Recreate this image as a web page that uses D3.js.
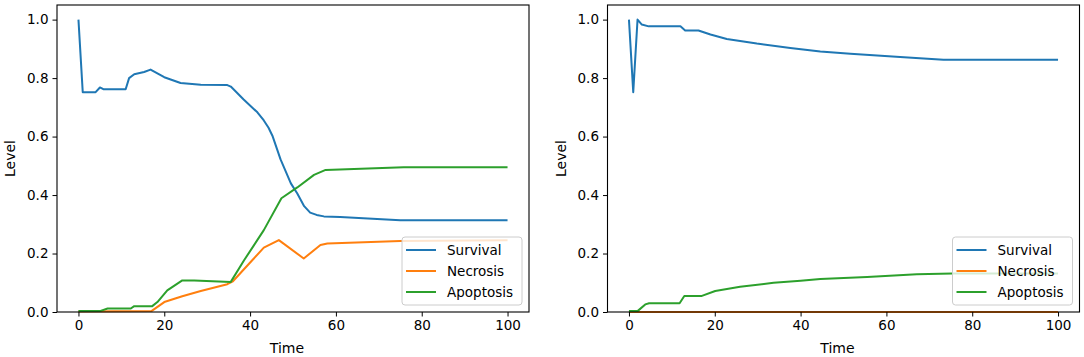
<!DOCTYPE html>
<html>
<head>
<meta charset="utf-8">
<script src="https://cdn.jsdelivr.net/npm/d3@7"></script>
<style>
  body { margin: 0; background: #fff; }
  text { font-family: "DejaVu Sans", sans-serif; }
</style>
</head>
<body>
<svg id="chart" width="1084" height="357"></svg>
<script>
// series, as [time, level] pairs
const seriesNames = ["Survival", "Necrosis", "Apoptosis"];
const colors = ["#1f77b4", "#ff7f0e", "#2ca02c"];
const xTicks = [0, 20, 40, 60, 80, 100];
const yTicks = [0.0, 0.2, 0.4, 0.6, 0.8, 1.0];

const leftSurvival = [[0,1.0],[1,0.752],[4,0.752],[5,0.768],[5.8,0.762],[11,0.762],[11.8,0.80],[13,0.813],[15.3,0.821],[16.8,0.829],[20,0.803],[23.8,0.783],[28.5,0.777],[34.7,0.776],[35.5,0.771],[38.5,0.727],[41.7,0.683],[43.2,0.655],[44.3,0.63],[45.2,0.603],[47.1,0.522],[49.5,0.44],[51,0.405],[52.6,0.362],[54,0.34],[55.5,0.332],[57.2,0.327],[61,0.325],[75,0.314],[100,0.314]];
const leftNecrosis = [[0,0.002],[17,0.003],[20,0.034],[24.2,0.054],[28.5,0.072],[34.7,0.095],[36,0.105],[40.5,0.177],[43.2,0.22],[46.7,0.246],[52.5,0.183],[56.4,0.229],[58,0.234],[75,0.243],[100,0.245]];
const leftApoptosis = [[0,0.003],[5,0.003],[6.8,0.012],[12.2,0.012],[13,0.02],[17.2,0.02],[18.4,0.034],[20.7,0.074],[24.2,0.108],[27,0.108],[35.5,0.103],[38.6,0.177],[43.2,0.28],[47.3,0.389],[51,0.426],[54.9,0.469],[57.6,0.486],[75.8,0.495],[100,0.495]];

const rightSurvival = [[0,1.0],[1,0.752],[2,1.0],[3,0.983],[4.6,0.977],[12,0.977],[13.1,0.963],[16.2,0.963],[19,0.949],[22.8,0.934],[29.8,0.918],[37.6,0.903],[44.6,0.891],[51.6,0.883],[63.2,0.872],[73.3,0.863],[100,0.863]];
const rightNecrosis = [[0,0],[100,0]];
const rightApoptosis = [[0,0.003],[2,0.003],[3.8,0.026],[4.7,0.03],[11.8,0.03],[12.9,0.055],[17,0.055],[20.1,0.072],[25.9,0.086],[33.7,0.1],[40,0.107],[44.6,0.113],[55.5,0.12],[67.1,0.129],[75.4,0.132],[100,0.132]];

const svg = d3.select("#chart");
const fontSize = 13.5;

function drawPanel(left, series) {
  const top = 5, width = 472, height = 307;
  const g = svg.append("g").attr("transform", "translate(" + left + "," + top + ")");

  const x = d3.scaleLinear().domain([-5, 105]).range([0, width]);
  const y = d3.scaleLinear().domain([0, 1.05]).range([height, 0]);

  const line = d3.line()
    .x(d => x(d[0]))
    .y(d => y(d[1]));

  // lines
  series.forEach((s, i) => {
    g.append("path")
      .datum(s)
      .attr("fill", "none")
      .attr("stroke", colors[i])
      .attr("stroke-width", 2)
      .attr("stroke-linejoin", "round")
      .attr("d", line);
  });

  // axes
  const xAxis = g.append("g")
    .attr("transform", "translate(0," + height + ")")
    .call(d3.axisBottom(x).tickValues(xTicks).tickSize(4.5).tickPadding(4).tickFormat(d3.format("d")));
  const yAxis = g.append("g")
    .call(d3.axisLeft(y).tickValues(yTicks).tickSize(4.5).tickPadding(4).tickFormat(d3.format(".1f")));
  [xAxis, yAxis].forEach(a => {
    a.select(".domain").remove();
    a.selectAll("line").attr("stroke", "#000").attr("stroke-width", 1);
    a.selectAll("text").attr("fill", "#000").style("font-size", fontSize + "px")
      .style("font-family", "DejaVu Sans, sans-serif");
  });

  // frame
  g.append("rect")
    .attr("width", width).attr("height", height)
    .attr("fill", "none").attr("stroke", "#000").attr("stroke-width", 1.1);

  // axis labels
  g.append("text")
    .attr("x", width / 2 - 6).attr("y", height + 41)
    .attr("text-anchor", "middle")
    .style("font-size", "14px")
    .text("Time");
  g.append("text")
    .attr("transform", "translate(" + (-42) + "," + (height / 2) + ") rotate(-90)")
    .attr("text-anchor", "middle")
    .style("font-size", "14px")
    .text("Level");

  // legend, lower right
  const lw = 120, lh = 68;
  const lg = g.append("g").attr("transform", "translate(" + (width - lw - 7) + "," + (height - lh - 7) + ")");
  lg.append("rect")
    .attr("width", lw).attr("height", lh).attr("rx", 3)
    .attr("fill", "#fff").attr("fill-opacity", 0.8)
    .attr("stroke", "#ccc").attr("stroke-width", 1);
  seriesNames.forEach((name, i) => {
    const ry = 13 + i * 21;
    lg.append("line")
      .attr("x1", 4).attr("x2", 34).attr("y1", ry).attr("y2", ry)
      .attr("stroke", colors[i]).attr("stroke-width", 2);
    lg.append("text")
      .attr("x", 45).attr("y", ry + 5)
      .style("font-size", fontSize + "px")
      .text(name);
  });
}

drawPanel(57, [leftSurvival, leftNecrosis, leftApoptosis]);
drawPanel(607.5, [rightSurvival, rightNecrosis, rightApoptosis]);
</script>
</body>
</html>
